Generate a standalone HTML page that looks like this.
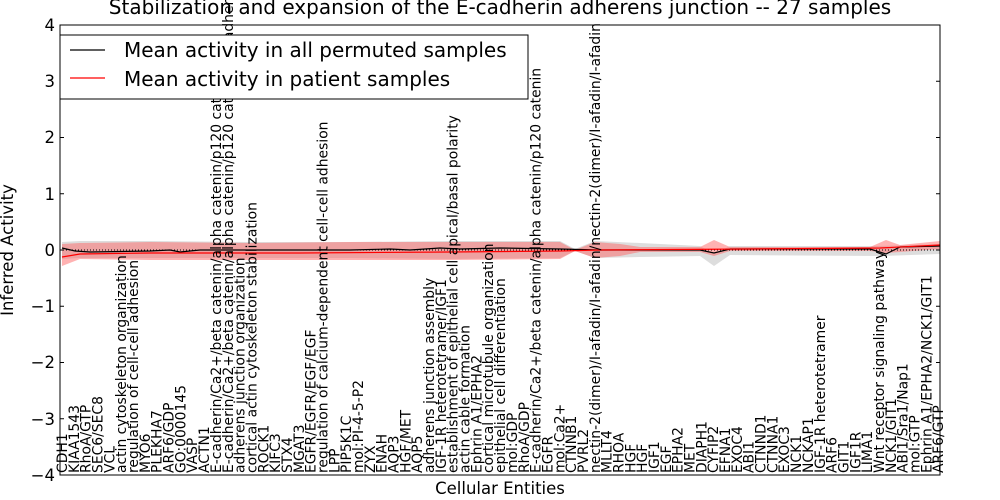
<!DOCTYPE html>
<html><head><meta charset="utf-8"><style>
html,body{margin:0;padding:0;background:#fff}
svg{display:block}
text{font-family:"DejaVu Sans","Liberation Sans",sans-serif}
.l{font-size:13.9px}
</style></head><body>
<svg width="1000" height="500" viewBox="0 0 1000 500" xmlns="http://www.w3.org/2000/svg">
<rect width="1000" height="500" fill="#fff"/>
<path d="M62,242 L80,241 L150,241 L250,242 L350,242 L450,241 L560,241 L575,249 L595,241 L640,243 L700,246 L714,254 L730,246 L880,246 L940,244 L940,254 L880,256 L730,255 L714,266 L700,256 L640,257 L595,258 L575,251 L560,258 L450,259 L350,258 L250,258 L150,258 L80,258 L62,259 Z" fill="#bbb" fill-opacity="0.5"/>
<path d="M62,244 L80,243 L150,242 L250,243 L350,242 L450,242 L560,242 L575,250 L595,242 L620,244 L640,247 L700,247 L714,240 L730,247 L870,247 L886,240 L900,245 L940,241 L940,249 L900,252 L886,253 L870,251 L730,251 L714,256 L700,252 L640,252 L620,256 L595,258 L575,251 L560,259 L450,260 L350,260 L250,260 L150,260 L80,259 L62,266 Z" fill="#f66" fill-opacity="0.5"/>
<line x1="60" y1="250" x2="940" y2="250" stroke="#000" stroke-dasharray="1,2" stroke-width="1"/>
<path d="M62,248 L75,251 L90,252 L150,251 L170,250 L180,252 L200,250 L300,250 L350,250 L390,249 L410,250 L440,248 L460,249 L500,248 L560,249 L600,250 L700,250 L714,253 L730,249 L870,249 L886,254 L900,247 L940,246" fill="none" stroke="#000" stroke-width="1.2"/>
<path d="M62,257 L80,254 L150,253 L300,253 L450,252 L560,251 L600,250 L750,249 L880,248 L940,245" fill="none" stroke="#f00" stroke-width="1.2"/>
<rect x="60" y="25" width="880" height="450" fill="none" stroke="#000" stroke-width="1"/>
<g stroke="#000">
<line x1="60" y1="81.25" x2="64" y2="81.25"/><line x1="60" y1="137.5" x2="64" y2="137.5"/><line x1="60" y1="193.75" x2="64" y2="193.75"/><line x1="60" y1="250" x2="64" y2="250"/><line x1="60" y1="306.25" x2="64" y2="306.25"/><line x1="60" y1="362.5" x2="64" y2="362.5"/><line x1="60" y1="418.75" x2="64" y2="418.75"/>
<line x1="936" y1="81.25" x2="940" y2="81.25"/><line x1="936" y1="137.5" x2="940" y2="137.5"/><line x1="936" y1="193.75" x2="940" y2="193.75"/><line x1="936" y1="250" x2="940" y2="250"/><line x1="936" y1="306.25" x2="940" y2="306.25"/><line x1="936" y1="362.5" x2="940" y2="362.5"/><line x1="936" y1="418.75" x2="940" y2="418.75"/>
</g>
<g font-size="16.5" text-anchor="end">
<text x="55" y="31">4</text><text x="55" y="87">3</text><text x="55" y="143">2</text><text x="55" y="200">1</text><text x="55" y="256">0</text><text x="55" y="312">−1</text><text x="55" y="368">−2</text><text x="55" y="425">−3</text><text x="55" y="481">−4</text>
</g>
<text transform="translate(13,250) rotate(-90)" font-size="16.5" text-anchor="middle">Inferred Activity</text>
<text x="500" y="494" font-size="16.5" text-anchor="middle">Cellular Entities</text>
<g class="l">
<text transform="translate(67.0,473) rotate(-90)">CDH1</text>
<text transform="translate(78.8,473) rotate(-90)">KIAA1543</text>
<text transform="translate(90.7,473) rotate(-90)">RhoA/GTP</text>
<text transform="translate(102.5,473) rotate(-90)">SEC6/SEC8</text>
<text transform="translate(114.4,473) rotate(-90)">VCL</text>
<text transform="translate(126.2,473) rotate(-90)">actin cytoskeleton organization</text>
<text transform="translate(138.0,473) rotate(-90)">regulation of cell-cell adhesion</text>
<text transform="translate(149.9,473) rotate(-90)">MYO6</text>
<text transform="translate(161.7,473) rotate(-90)">PLEKHA7</text>
<text transform="translate(173.6,473) rotate(-90)">ARF6/GDP</text>
<text transform="translate(185.4,473) rotate(-90)">GO:0000145</text>
<text transform="translate(197.2,473) rotate(-90)">VASP</text>
<text transform="translate(209.1,473) rotate(-90)">ACTN1</text>
<text transform="translate(220.9,473) rotate(-90)">E-cadherin/Ca2+/beta catenin/alpha catenin/p120 catenin</text>
<text transform="translate(232.8,473) rotate(-90)">E-cadherin/Ca2+/beta catenin/alpha catenin/p120 catenin/N-cadherin</text>
<text transform="translate(244.6,473) rotate(-90)">adherens junction organization</text>
<text transform="translate(256.4,473) rotate(-90)">cortical actin cytoskeleton stabilization</text>
<text transform="translate(268.3,473) rotate(-90)">ROCK1</text>
<text transform="translate(280.1,473) rotate(-90)">KIFC3</text>
<text transform="translate(292.0,473) rotate(-90)">STX4</text>
<text transform="translate(303.8,473) rotate(-90)">MGAT3</text>
<text transform="translate(315.6,473) rotate(-90)">EGFR/EGFR/EGF/EGF</text>
<text transform="translate(327.5,473) rotate(-90)">regulation of calcium-dependent cell-cell adhesion</text>
<text transform="translate(339.3,473) rotate(-90)">LPP</text>
<text transform="translate(351.2,473) rotate(-90)">PIP5K1C</text>
<text transform="translate(363.0,473) rotate(-90)">mol:PI-4-5-P2</text>
<text transform="translate(374.8,473) rotate(-90)">ZYX</text>
<text transform="translate(386.7,473) rotate(-90)">ENAH</text>
<text transform="translate(398.5,473) rotate(-90)">AQP3</text>
<text transform="translate(410.4,473) rotate(-90)">HGF/MET</text>
<text transform="translate(422.2,473) rotate(-90)">AQP5</text>
<text transform="translate(434.0,473) rotate(-90)">adherens junction assembly</text>
<text transform="translate(445.9,473) rotate(-90)">IGF-1R heterotetramer/IGF1</text>
<text transform="translate(457.7,473) rotate(-90)">establishment of epithelial cell apical/basal polarity</text>
<text transform="translate(469.6,473) rotate(-90)">actin cable formation</text>
<text transform="translate(481.4,473) rotate(-90)">Ephrin A1/EPHA2</text>
<text transform="translate(493.2,473) rotate(-90)">cortical microtubule organization</text>
<text transform="translate(505.1,473) rotate(-90)">epithelial cell differentiation</text>
<text transform="translate(516.9,473) rotate(-90)">mol:GDP</text>
<text transform="translate(528.8,473) rotate(-90)">RhoA/GDP</text>
<text transform="translate(540.6,473) rotate(-90)">E-cadherin/Ca2+/beta catenin/alpha catenin/p120 catenin</text>
<text transform="translate(552.4,473) rotate(-90)">EGFR</text>
<text transform="translate(564.3,473) rotate(-90)">mol:Ca2+</text>
<text transform="translate(576.1,473) rotate(-90)">CTNNB1</text>
<text transform="translate(588.0,473) rotate(-90)">PVRL2</text>
<text transform="translate(599.8,473) rotate(-90)">nectin-2(dimer)/I-afadin/I-afadin/nectin-2(dimer)/I-afadin/I-afadin</text>
<text transform="translate(611.6,473) rotate(-90)">MLLT4</text>
<text transform="translate(623.5,473) rotate(-90)">RHOA</text>
<text transform="translate(635.3,473) rotate(-90)">HGF</text>
<text transform="translate(647.2,473) rotate(-90)">HGF</text>
<text transform="translate(659.0,473) rotate(-90)">IGF1</text>
<text transform="translate(670.8,473) rotate(-90)">EGF</text>
<text transform="translate(682.7,473) rotate(-90)">EPHA2</text>
<text transform="translate(694.5,473) rotate(-90)">MET</text>
<text transform="translate(706.4,473) rotate(-90)">DIAPH1</text>
<text transform="translate(718.2,473) rotate(-90)">CYFIP2</text>
<text transform="translate(730.0,473) rotate(-90)">EFNA1</text>
<text transform="translate(741.9,473) rotate(-90)">EXOC4</text>
<text transform="translate(753.7,473) rotate(-90)">ABI1</text>
<text transform="translate(765.6,473) rotate(-90)">CTNND1</text>
<text transform="translate(777.4,473) rotate(-90)">CTNNA1</text>
<text transform="translate(789.2,473) rotate(-90)">EXOC3</text>
<text transform="translate(801.1,473) rotate(-90)">NCK1</text>
<text transform="translate(812.9,473) rotate(-90)">NCKAP1</text>
<text transform="translate(824.8,473) rotate(-90)">IGF-1R heterotetramer</text>
<text transform="translate(836.6,473) rotate(-90)">ARF6</text>
<text transform="translate(848.4,473) rotate(-90)">GIT1</text>
<text transform="translate(860.3,473) rotate(-90)">IGF1R</text>
<text transform="translate(872.1,473) rotate(-90)">LIMA1</text>
<text transform="translate(884.0,473) rotate(-90)">Wnt receptor signaling pathway</text>
<text transform="translate(895.8,473) rotate(-90)">NCK1/GIT1</text>
<text transform="translate(907.6,473) rotate(-90)">ABI1/Sra1/Nap1</text>
<text transform="translate(919.5,473) rotate(-90)">mol:GTP</text>
<text transform="translate(931.3,473) rotate(-90)">Ephrin A1/EPHA2/NCK1/GIT1</text>
<text transform="translate(943.2,473) rotate(-90)">ARF6/GTP</text>
</g>
<rect x="60" y="35" width="468" height="64" fill="#fff" stroke="#000" stroke-width="1"/>
<line x1="70" y1="50" x2="105" y2="50" stroke="#000" stroke-width="1.2"/>
<line x1="70" y1="78" x2="105" y2="78" stroke="#f00" stroke-width="1.2"/>
<text x="124" y="57" font-size="20">Mean activity in all permuted samples</text>
<text x="124" y="86" font-size="20">Mean activity in patient samples</text>
<text x="500" y="14" font-size="20" text-anchor="middle">Stabilization and expansion of the E-cadherin adherens junction -- 27 samples</text>
</svg>
</body></html>
